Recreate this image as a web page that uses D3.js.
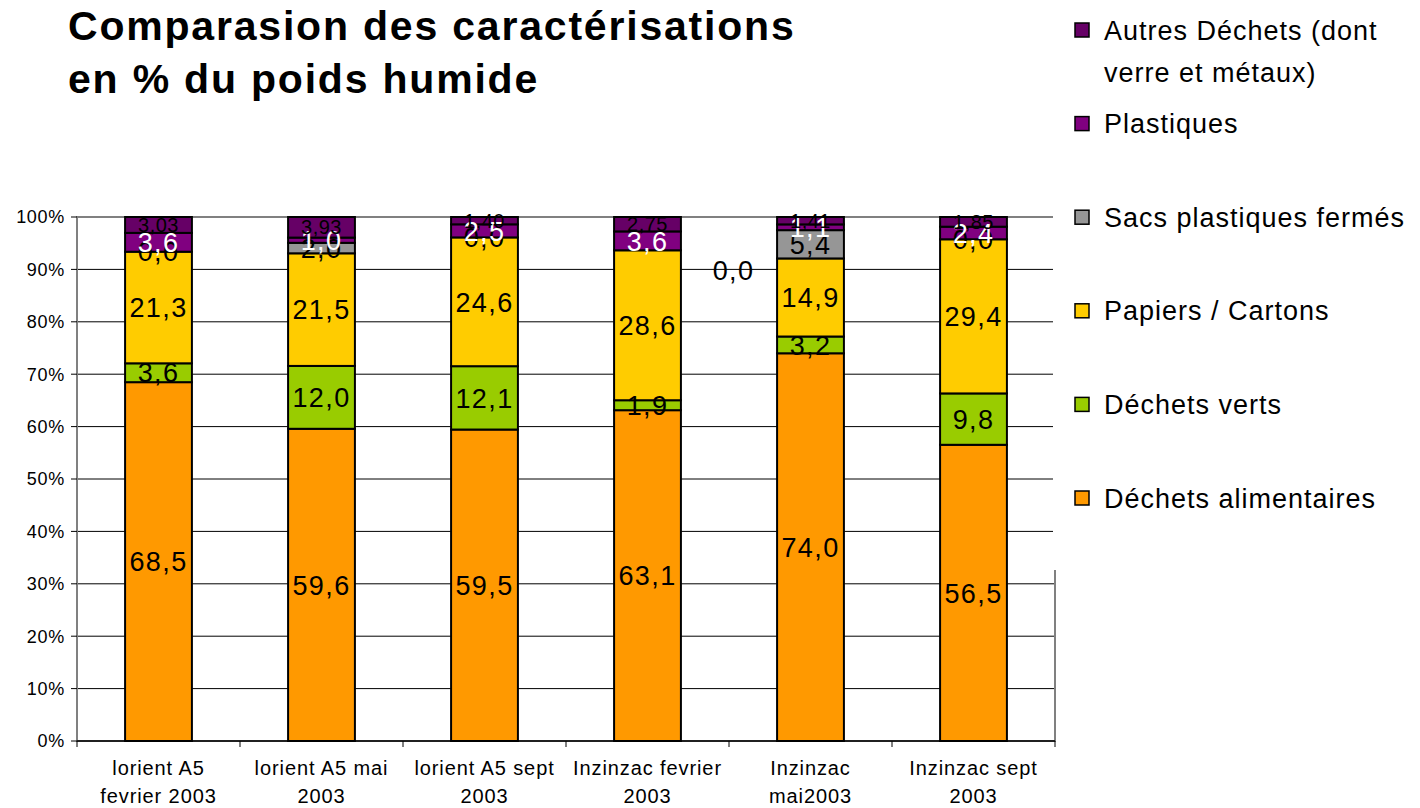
<!DOCTYPE html>
<html>
<head>
<meta charset="utf-8">
<script src="https://cdn.jsdelivr.net/npm/d3@7"></script>
<style>
  body { margin: 0; background: #fff; }
  svg { display: block; font-family: "Liberation Sans", Arial, sans-serif; }
</style>
</head>
<body>
<svg id="chart" width="1420" height="808"></svg>
<script>
"use strict";

// categories (tick labels, "\n" = line break as in the picture)
var categories = [
    "lorient A5\nfevrier 2003",
    "lorient A5 mai\n2003",
    "lorient A5 sept\n2003",
    "Inzinzac fevrier\n2003",
    "Inzinzac\nmai2003",
    "Inzinzac sept\n2003"
];

// series, bottom to top
var seriesNames = ["Déchets alimentaires", "Déchets verts", "Papiers / Cartons",
                   "Sacs plastiques fermés", "Plastiques", "Autres Déchets (dont verre et métaux)"];
var seriesColors = ["#ff9900", "#99cc00", "#ffcc00", "#969696", "#800080", "#660066"];

var dechetsAlimentaires = [68.5, 59.6, 59.5, 63.1, 74.0, 56.5];
var dechetsVerts        = [3.6, 12.0, 12.1, 1.9, 3.2, 9.8];
var papiersCartons      = [21.3, 21.5, 24.6, 28.6, 14.9, 29.4];
var sacsPlastiques      = [0.0, 2.0, 0.0, 0.0, 5.4, 0.0];
var plastiques          = [3.6, 1.0, 2.5, 3.6, 1.1, 2.4];
var autresDechets       = [3.03, 3.93, 1.40, 2.75, 1.41, 1.85];

var yTicks = [0, 10, 20, 30, 40, 50, 60, 70, 80, 90, 100];

var seriesValues = [dechetsAlimentaires, dechetsVerts, papiersCartons, sacsPlastiques, plastiques, autresDechets];

// tableau pour d3.stack : une ligne par catégorie
var table = categories.map(function(c, i) {
    var row = { cat: c };
    seriesNames.forEach(function(s, j) { row[s] = seriesValues[j][i]; });
    return row;
});

var svg = d3.select("#chart");
var marge = { left: 77, right: 365, top: 217, bottom: 67 };
var largeur = 1420 - marge.left - marge.right;
var hauteur = 808 - marge.top - marge.bottom;

var x = d3.scaleBand().domain(categories).range([marge.left, marge.left + largeur]).paddingInner(0.59).paddingOuter(0.295);
var y = d3.scaleLinear().domain([0, 100]).range([marge.top + hauteur, marge.top]);

var stack = d3.stack().keys(seriesNames).offset(d3.stackOffsetExpand);
var couches = stack(table);

// titre
var titre = svg.append("text").attr("font-weight", "bold").attr("font-size", 41)
    .attr("letter-spacing", 1.8).attr("fill", "#000");
titre.append("tspan").attr("x", 68).attr("y", 40).text("Comparasion des caractérisations");
titre.append("tspan").attr("x", 68).attr("y", 93).text("en % du poids humide");

// grille
svg.append("g").selectAll("line").data(yTicks.slice(1, -1)).enter().append("line")
    .attr("x1", marge.left).attr("x2", marge.left + largeur)
    .attr("y1", function(d) { return y(d); }).attr("y2", function(d) { return y(d); })
    .attr("stroke", "#000").attr("stroke-width", 1);

// cadre de la zone de tracé
svg.append("rect").attr("x", marge.left).attr("y", marge.top).attr("width", largeur).attr("height", hauteur)
    .attr("fill", "none").attr("stroke", "#808080").attr("stroke-width", 2);

// barres
var groupes = svg.append("g").selectAll("g").data(couches).enter().append("g")
    .attr("fill", function(d, i) { return seriesColors[i]; });

groupes.selectAll("rect").data(function(d) { return d; }).enter().append("rect")
    .attr("x", function(d) { return x(d.data.cat); })
    .attr("width", x.bandwidth())
    .attr("y", function(d) { return y(d[1] * 100); })
    .attr("height", function(d) { return y(d[0] * 100) - y(d[1] * 100); })
    .attr("stroke", "#000").attr("stroke-width", 2);

// axe y
svg.append("line").attr("x1", marge.left).attr("x2", marge.left).attr("y1", marge.top).attr("y2", marge.top + hauteur)
    .attr("stroke", "#808080").attr("stroke-width", 2);
var axeY = svg.append("g").selectAll("g").data(yTicks).enter().append("g");
axeY.append("line").attr("x1", marge.left - 6).attr("x2", marge.left)
    .attr("y1", function(d) { return y(d); }).attr("y2", function(d) { return y(d); })
    .attr("stroke", "#000");
axeY.append("text").attr("x", 65).attr("y", function(d) { return y(d); }).attr("dy", "0.36em")
    .attr("text-anchor", "end").attr("font-size", 18).attr("letter-spacing", 0.7)
    .text(function(d) { return d + "%"; });

// axe x
svg.append("line").attr("x1", marge.left).attr("x2", marge.left + largeur)
    .attr("y1", marge.top + hauteur).attr("y2", marge.top + hauteur).attr("stroke", "#000").attr("stroke-width", 1.5);
var pas = x.step();
svg.append("g").selectAll("line").data(d3.range(categories.length + 1)).enter().append("line")
    .attr("x1", function(i) { return marge.left + i * pas; }).attr("x2", function(i) { return marge.left + i * pas; })
    .attr("y1", marge.top + hauteur).attr("y2", marge.top + hauteur + 6).attr("stroke", "#000");

var etiquettesX = svg.append("g").selectAll("text").data(categories).enter().append("text")
    .attr("text-anchor", "middle").attr("font-size", 20).attr("letter-spacing", 0.9);
etiquettesX.each(function(c) {
    var t = d3.select(this);
    c.split("\n").forEach(function(ligne, k) {
        t.append("tspan").attr("x", x(c) + x.bandwidth() / 2).attr("y", 775 + k * 28).text(ligne);
    });
});

// étiquettes de valeurs
var fmt = function(v, j) {
    var s = j === 5 ? v.toFixed(2) : v.toFixed(1);
    return s.replace(".", ",");
};
couches.forEach(function(couche, j) {
    svg.append("g").selectAll("text").data(couche).enter().append("text")
        .attr("x", function(d, i) {
            var cx = x(d.data.cat) + x.bandwidth() / 2;
            // l'étiquette 0,0 d'Inzinzac fevrier est déplacée à droite de la barre
            if (j === 3 && i === 3) cx += 86;
            return cx;
        })
        .attr("y", function(d, i) {
            var cy = y((d[0] + d[1]) * 50);
            if (j === 3 && i === 3) cy += 20;
            return cy;
        })
        .attr("dy", "0.36em")
        .attr("text-anchor", "middle")
        .attr("font-size", j === 5 ? 20 : 27)
        .attr("letter-spacing", j === 5 ? 0.5 : 1.4)
        .attr("fill", j === 4 ? "#fff" : "#000")
        .text(function(d, i) { return fmt(seriesValues[j][i], j); });
});

// légende (fond blanc qui recouvre le bord droit du cadre)
svg.append("rect").attr("x", 1053).attr("y", 0).attr("width", 367).attr("height", 570).attr("fill", "#fff");
var legendeLignes = [
    ["Autres Déchets (dont", "verre et métaux)"],
    ["Plastiques"],
    ["Sacs plastiques fermés"],
    ["Papiers / Cartons"],
    ["Déchets verts"],
    ["Déchets alimentaires"]
];
var ordreLegende = [5, 4, 3, 2, 1, 0];
var legende = svg.append("g").selectAll("g").data(ordreLegende).enter().append("g")
    .attr("transform", function(s, k) { return "translate(1075," + (30 + k * 93.6) + ")"; });
legende.append("rect").attr("x", 0).attr("y", -7).attr("width", 14).attr("height", 14)
    .attr("fill", function(s) { return seriesColors[s]; }).attr("stroke", "#000").attr("stroke-width", 1.5);
legende.each(function(s, k) {
    var t = d3.select(this).append("text").attr("font-size", 27).attr("letter-spacing", 1);
    legendeLignes[k].forEach(function(ligne, n) {
        t.append("tspan").attr("x", 29).attr("y", 9.5 + n * 42).text(ligne);
    });
});
</script>
</body>
</html>
